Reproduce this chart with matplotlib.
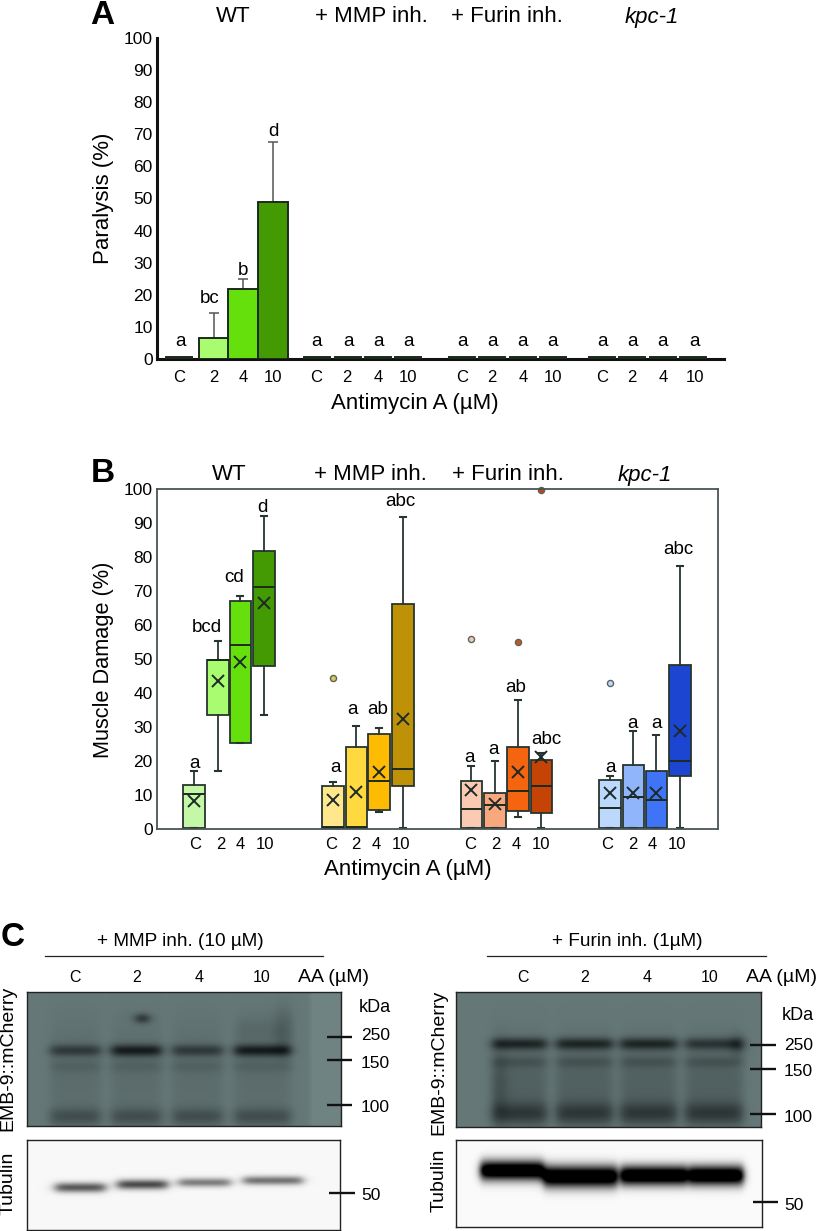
import numpy as np
import matplotlib
matplotlib.use('Agg')
import matplotlib.pyplot as plt
from matplotlib.colors import LinearSegmentedColormap

plt.rcParams['font.family'] = ['Liberation Sans', 'DejaVu Sans']
W, H = 816, 1231

# ---------- data ----------
doses = ['C', '2', '4', '10']
groups = ['WT', '+ MMP inh.', '+ Furin inh.', 'kpc-1']

paralysis = [0.5, 6.6, 21.7, 49.0,
             0.6, 0.6, 0.6, 0.6,
             0.6, 0.6, 0.6, 0.6,
             0.6, 0.6, 0.6, 0.6]
paralysis_err = [0, 7.8, 3.1, 18.5] + [0] * 12
paralysis_sig = ['a', 'bc', 'b', 'd'] + ['a'] * 12

q1 = [0.4, 33.4, 25.2, 47.8, 0.4, 0.4, 5.5, 12.6, 0.4, 0.4, 5.2, 4.8, 0.4, 0.4, 0.4, 15.7]
med = [10.2, 49.8, 54.2, 71.3, 0.5, 0.5, 14.1, 17.6, 5.9, 7.1, 11.3, 12.6, 6.3, 9.3, 8.6, 20.0]
q3 = [13.0, 49.8, 67.0, 81.8, 12.6, 24.2, 28.0, 66.1, 14.1, 10.5, 24.2, 20.3, 14.5, 18.7, 17.2, 48.1]
whislo = [0.4, 17.2, 25.2, 33.4, 0.4, 0.4, 5.1, 0.4, 0.4, 0.4, 3.5, 0.4, 0.4, 0.4, 0.4, 0.4]
whishi = [17.2, 55.2, 68.6, 92.2, 13.8, 30.3, 29.6, 91.8, 18.4, 20.0, 37.8, 22.3, 15.7, 28.7, 27.6, 77.4]
means = [8.2, 43.6, 49.0, 66.5, 8.5, 10.9, 16.8, 32.3, 11.4, 7.4, 16.9, 21.3, 10.6, 10.6, 10.6, 28.9]
fliers = [[], [], [], [], [44.3], [], [], [], [55.9], [], [54.9], [99.7], [42.8], [], [], []]
damage_sig = ['a', 'bcd', 'cd', 'd', 'a', 'a', 'ab', 'abc', 'a', 'a', 'ab', 'abc', 'a', 'a', 'a', 'abc']

box_colors = ['#c4f7a6', '#a9fb70', '#66e00c', '#439a02',
              '#ffe78c', '#ffd93f', '#ffba02', '#bf9106',
              '#fbcab2', '#f9a87e', '#f5640f', '#c54305',
              '#bdd8fd', '#90b5fa', '#3f74f6', '#1c46d2']
flier_colors = ['#c4f7a6'] * 4 + ['#d9c95a'] * 4 + ['#f0c8b0', '#f9a87e', '#c9561a', '#c54305'] + ['#bdd8fd'] * 4
bar_colors = ['#222222', '#a9fb70', '#66e00c', '#439a02'] + ['#111111'] * 12

# ---------- layout (figure pixels) ----------
bar_x = [179, 214, 243, 273, 317, 348, 378, 408, 462, 492, 523, 553, 602, 632, 663, 693]
bar_w = [26, 30, 30, 30, 26, 26, 26, 26, 26, 26, 26, 26, 26, 26, 26, 26]
bar_tick = [179, 214, 243, 273, 316, 347, 378, 408, 462, 492, 523, 553, 602, 632, 663, 695]
bar_sig_x = [180, 210, 243, 273, 316, 348, 378, 408, 462, 492, 523, 553, 602, 632, 663, 695]
bar_sig_y = [5.6, 19, 27.5, 71, 5.6, 5.6, 5.6, 5.6, 5.6, 5.6, 5.6, 5.6, 5.6, 5.6, 5.6, 5.6]

box_x = [194, 218, 240.5, 264, 333, 356.5, 379, 403, 471.5, 495, 518, 541.5, 610, 633.5, 656.5, 680]
box_tick = [195, 221, 240, 265, 331, 356, 376, 401, 470, 496, 516, 541, 607, 633, 652, 677]
box_sig_x = [195, 207, 234, 262, 336, 353, 378, 400, 470, 494, 516, 546, 611, 633, 657, 678]
box_sig_px = [763, 627, 577, 507, 768, 710, 710, 502, 758, 750, 688, 739, 767, 723, 724, 549]


def axes_px(x0, y0, x1, y1):
    return fig.add_axes([x0 / W, 1 - y1 / H, (x1 - x0) / W, (y1 - y0) / H])


def txt(x, y, s, size=11, **kw):
    kw.setdefault('ha', 'center')
    kw.setdefault('va', 'center')
    fig.text(x / W, 1 - y / H, s, fontsize=size, **kw)


fig = plt.figure(figsize=(W / 100, H / 100), dpi=100)

# ---------- panel A ----------
axa = axes_px(157, 38, 724, 359)
axa.set_xlim(157, 724)
axa.set_ylim(0, 100)
axa.bar(bar_x, paralysis, width=bar_w, color=bar_colors, edgecolor='#1c2a1c', linewidth=1.4, zorder=3)
for x, v, e in zip(bar_x, paralysis, paralysis_err):
    if e > 0:
        axa.errorbar(x, v, yerr=[[0], [e]], ecolor='#555555', elinewidth=1.1, capsize=3.5, capthick=1.1, zorder=2)
for x, y, s in zip(bar_sig_x, bar_sig_y, paralysis_sig):
    axa.text(x, y, s, ha='center', va='center', fontsize=13.5)
for s in ('top', 'right'):
    axa.spines[s].set_visible(False)
for s in ('left', 'bottom'):
    axa.spines[s].set_linewidth(2.2)
    axa.spines[s].set_color('#111111')
axa.set_yticks(np.arange(0, 101, 10))
axa.tick_params(axis='y', length=0, labelsize=12.5, pad=3)
axa.set_xticks(bar_tick)
axa.set_xticklabels(doses * 4, fontsize=12)
axa.tick_params(axis='x', length=0, pad=8)
axa.patch.set_alpha(0)

# ---------- panel B ----------
axb = axes_px(157, 489, 718, 829)
axb.set_xlim(157, 718)
axb.set_ylim(0, 100)
stats = [dict(q1=a, med=m, q3=b, whislo=l, whishi=h, mean=mn, fliers=f)
         for a, m, b, l, h, mn, f in zip(q1, med, q3, whislo, whishi, means, fliers)]
line = '#27352f'
bp = axb.bxp(stats, positions=box_x, widths=21.5, capwidths=6, patch_artist=True, showmeans=True,
             manage_ticks=False,
             boxprops=dict(edgecolor=line, linewidth=1.3),
             medianprops=dict(color='#1c2a1c', linewidth=1.4),
             whiskerprops=dict(color=line, linewidth=1.3),
             capprops=dict(color=line, linewidth=1.5),
             meanprops=dict(marker='x', markeredgecolor='#1c2a2a', markersize=9, markeredgewidth=1.4),
             flierprops=dict(marker='o', markersize=4.4, markeredgecolor='#5a6560', markeredgewidth=1.0))
for b, c in zip(bp['boxes'], box_colors):
    b.set_facecolor(c)
for f, c in zip(bp['fliers'], flier_colors):
    f.set_markerfacecolor(c)
    f.set_clip_on(False)
for x, y, s in zip(box_sig_x, box_sig_px, damage_sig):
    axb.text(x, (829 - y) / 3.4, s, ha='center', va='center', fontsize=13.5)
for s in axb.spines.values():
    s.set_color('#4a5558')
    s.set_linewidth(1.3)
axb.set_yticks(np.arange(0, 101, 10))
axb.tick_params(axis='y', length=0, labelsize=12.5, pad=3)
axb.set_xticks(box_tick)
axb.set_xticklabels(doses * 4, fontsize=12)
axb.tick_params(axis='x', length=0, pad=6)

# ---------- titles and labels ----------
for (x, y), g in zip([(233, 17), (371, 17), (507, 17), (652, 17)], groups):
    txt(x, y, g, 16, style='italic' if g == 'kpc-1' else 'normal')
for (x, y), g in zip([(229, 475), (370, 475), (508, 475), (645, 475)], groups):
    txt(x, y, g, 16, style='italic' if g == 'kpc-1' else 'normal')
txt(415, 403, 'Antimycin A (µM)', 16)
txt(408, 870, 'Antimycin A (µM)', 16)
txt(103, 198, 'Paralysis (%)', 16, rotation=90)
txt(103, 660, 'Muscle Damage (%)', 15.7, rotation=90)
txt(102, 15, 'A', 24, fontweight='bold')
txt(103, 473, 'B', 24, fontweight='bold')
txt(13, 937, 'C', 24, fontweight='bold')


# ---------- panel C: blots, painted as smooth images ----------
def gel(rect, bands, base, cmap, light=(), soft=6.0):
    x0, y0, x1, y1 = rect
    xx, yy = np.meshgrid(np.arange(x0, x1, 1.0), np.arange(y0, y1, 1.0))
    img = np.full(xx.shape, base, dtype=float)
    for (a, b, s) in light:
        img += s * 0.5 * (np.tanh((xx - a) / 2.5) - np.tanh((xx - b) / 2.5))
    for (a, b, yc, sy, s) in bands:
        prof = 0.5 * (np.tanh((xx - a) / soft) - np.tanh((xx - b) / soft))
        img -= s * prof * np.exp(-((yy - yc) / sy) ** 2)
    ax = axes_px(x0, y0, x1, y1)
    ax.imshow(np.clip(img, 0, 1), cmap=cmap, vmin=0, vmax=1, aspect='auto', interpolation='bilinear')
    ax.set_xticks([])
    ax.set_yticks([])
    for s in ax.spines.values():
        s.set_color('#222222')
        s.set_linewidth(1.0)
    return ax


gel_cmap = LinearSegmentedColormap.from_list('gel', ['#050808', '#6f8282', '#c8d4d4'])
wb_cmap = LinearSegmentedColormap.from_list('wb', ['#000000', '#ffffff'])

left_lanes = [(50, 100), (111, 161), (172, 222), (234, 290)]
bands_l = []
for (a, b), s in zip(left_lanes, [0.22, 0.34, 0.22, 0.34]):
    bands_l.append((a, b, 1050, 6, s))
    bands_l.append((a, b, 1066, 6, 0.05))
    bands_l.append((a, b, 1116, 9, 0.14))
    bands_l.append((a, b, 1075, 60, 0.05))
bands_l += [(136, 148, 1018, 5, 0.3), (276, 291, 1030, 22, 0.10), (236, 280, 1030, 12, 0.04)]
gel((27, 992, 341, 1126), bands_l, 0.46, gel_cmap, light=[(310, 341, 0.05)])

right_lanes = [(492, 546), (556, 612), (620, 676), (685, 742)]
bands_r = []
for (a, b), s in zip(right_lanes, [0.30, 0.30, 0.30, 0.24]):
    bands_r.append((a, b, 1044, 6, s))
    bands_r.append((a, b, 1062, 6, 0.08))
    bands_r.append((a, b, 1113, 11, 0.20))
    bands_r.append((a, b, 1085, 45, 0.10))
bands_r += [(492, 505, 1085, 40, 0.08), (732, 743, 1045, 10, 0.15)]
gel((456, 992, 761, 1127), bands_r, 0.46, gel_cmap)

tub_l = [(55, 105, 1187, 5, 0.62), (117, 167, 1184, 5, 0.68), (178, 230, 1182, 4.5, 0.48), (243, 302, 1180, 4.5, 0.52)]
gel((27, 1140, 340, 1230), tub_l, 0.97, wb_cmap)
tub_r = [(480, 543, 1170, 10, 1.25), (543, 617, 1176, 11, 1.25), (620, 687, 1175, 10, 1.25), (688, 743, 1175, 10, 1.25)]
gel((456, 1140, 762, 1227), tub_r, 0.98, wb_cmap, soft=4.0)

overlay = fig.add_axes([0, 0, 1, 1])
overlay.set_xlim(0, W)
overlay.set_ylim(H, 0)
overlay.axis('off')
overlay.patch.set_alpha(0)
for x0, x1, y in [(45, 323, 956), (487, 766, 956)]:
    overlay.plot([x0, x1], [y, y], color='#222222', lw=0.9)
for x0, x1, y in [(327, 352, 1037), (327, 352, 1060), (327, 352, 1105), (329, 355, 1193),
                  (750, 776, 1045), (750, 776, 1069), (750, 776, 1114), (753, 778, 1202)]:
    overlay.plot([x0, x1], [y, y], color='#111111', lw=1.7, solid_capstyle='butt')

txt(180, 942, '+ MMP inh. (10 µM)', 13.7)
txt(627, 942, '+ Furin inh. (1µM)', 13.7)
for x, d in zip([75, 137, 199, 262], doses):
    txt(x, 978, d, 11.5)
for x, d in zip([523, 585, 647, 710], doses):
    txt(x, 978, d, 11.5)
txt(333, 978, 'AA (µM)', 14)
txt(781, 978, 'AA (µM)', 14)
txt(375, 1007, 'kDa', 13)
txt(798, 1016, 'kDa', 13)
for y, s in zip([1036, 1063, 1108, 1196], ['250', '150', '100', '50']):
    txt(361, y, s, 12.5, ha='left')
for y, s in zip([1045, 1072, 1117, 1205], ['250', '150', '100', '50']):
    txt(784, y, s, 12.5, ha='left')
txt(8, 1058, 'EMB-9::mCherry', 14, rotation=90)
txt(8, 1183, 'Tubulin', 14, rotation=90)
txt(439, 1062, 'EMB-9::mCherry', 14, rotation=90)
txt(439, 1180, 'Tubulin', 14, rotation=90)

fig.savefig('out.png', dpi=100, facecolor='white')
